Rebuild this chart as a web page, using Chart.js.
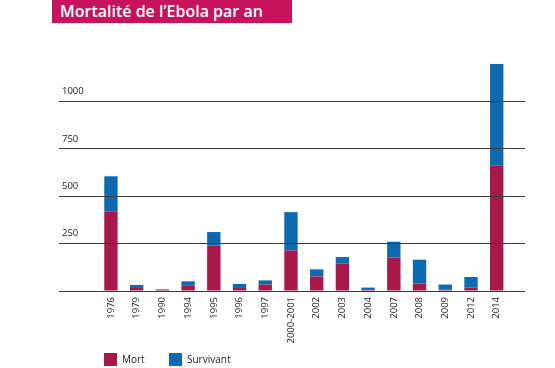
<!DOCTYPE html>
<html>
<head>
<meta charset="utf-8">
<script src="https://cdn.jsdelivr.net/npm/chart.js@4/dist/chart.umd.min.js"></script>
<style>
  html, body { margin: 0; padding: 0; background: #fff; }
  #wrap { position: relative; width: 555px; height: 368px; overflow: hidden; }
  #c { position: absolute; left: 0; top: 0; }
  #title { position: absolute; left: 52px; top: 0; width: 240px; height: 23px; background: #C8125C;
           color: #fff; font-family: "Open Sans", sans-serif; font-weight: 600; font-size: 16px;
           line-height: 22px; padding-left: 8px; box-sizing: border-box; white-space: nowrap; }
  .lg { position: absolute; top: 353px; font-family: "Open Sans", sans-serif; font-size: 10px; color: #222; line-height: 13px; }
  .sw { position: absolute; top: 353px; width: 13px; height: 13px; }
</style>
</head>
<body>
<div id="wrap">
  <canvas id="c" width="555" height="368"></canvas>
  <div id="title">Mortalité de l’Ebola par an</div>
  <div class="sw" style="left:104px;background:#A8184B"></div>
  <div class="lg" style="left:122px">Mort</div>
  <div class="sw" style="left:169px;background:#0D6AB1"></div>
  <div class="lg" style="left:187px">Survivant</div>
</div>
<script>
const categories = ["1976","1979","1990","1994","1995","1996","1997","2000-2001","2002","2003","2004","2007","2008","2009","2012","2014"];
const mort      = [418, 16, 7, 27, 241, 16, 34, 214, 77, 144, 6, 176, 39, 7, 18, 661];
const survivant = [187, 16, 2, 24, 70, 21, 22, 202, 37, 35, 12, 84, 126, 27, 56, 536];
const yTicks = [0, 250, 500, 750, 1000];
const seriesNames = ["Mort", "Survivant"];
const colors = ["#A8184B", "#0D6AB1"];

const toPoints = arr => arr.map((v, i) => ({ x: i, y: v }));

new Chart(document.getElementById('c'), {
  type: 'bar',
  data: {
    datasets: [
      { label: seriesNames[0], data: toPoints(mort), backgroundColor: colors[0], borderWidth: 0,
        categoryPercentage: 1, barPercentage: 0.52 },
      { label: seriesNames[1], data: toPoints(survivant), backgroundColor: colors[1], borderWidth: 0,
        categoryPercentage: 1, barPercentage: 0.52 }
    ]
  },
  options: {
    responsive: false,
    animation: false,
    layout: { padding: { left: 59, right: 30, top: 54, bottom: 25 } },
    plugins: { legend: { display: false }, title: { display: false }, tooltip: { enabled: false } },
    scales: {
      x: {
        type: 'linear', stacked: true, offset: false,
        min: -2.02, max: 16.1,
        grid: { display: false, drawTicks: false },
        border: { display: false },
        afterBuildTicks: s => { s.ticks = categories.map((c, i) => ({ value: i })); },
        afterFit: s => { s.height = 52; },
        ticks: {
          autoSkip: false, minRotation: 90, maxRotation: 90, padding: 6,
          color: '#222', font: { family: 'Open Sans', size: 9.5 },
          callback: v => categories[v] ?? ''
        }
      },
      y: {
        stacked: true, min: 0, max: 1250,
        afterBuildTicks: s => { s.ticks = yTicks.map(v => ({ value: v })); },
        afterFit: s => { s.width = 0; },
        border: { display: false },
        grid: { color: '#3a3a3a', lineWidth: 1, drawTicks: false, z: 1 },
        ticks: {
          mirror: true, padding: 3, labelOffset: -10,
          color: '#222', font: { family: 'Open Sans', size: 9.5 },
          callback: v => v === 0 ? '' : String(v)
        }
      }
    }
  }
});
</script>
</body>
</html>
